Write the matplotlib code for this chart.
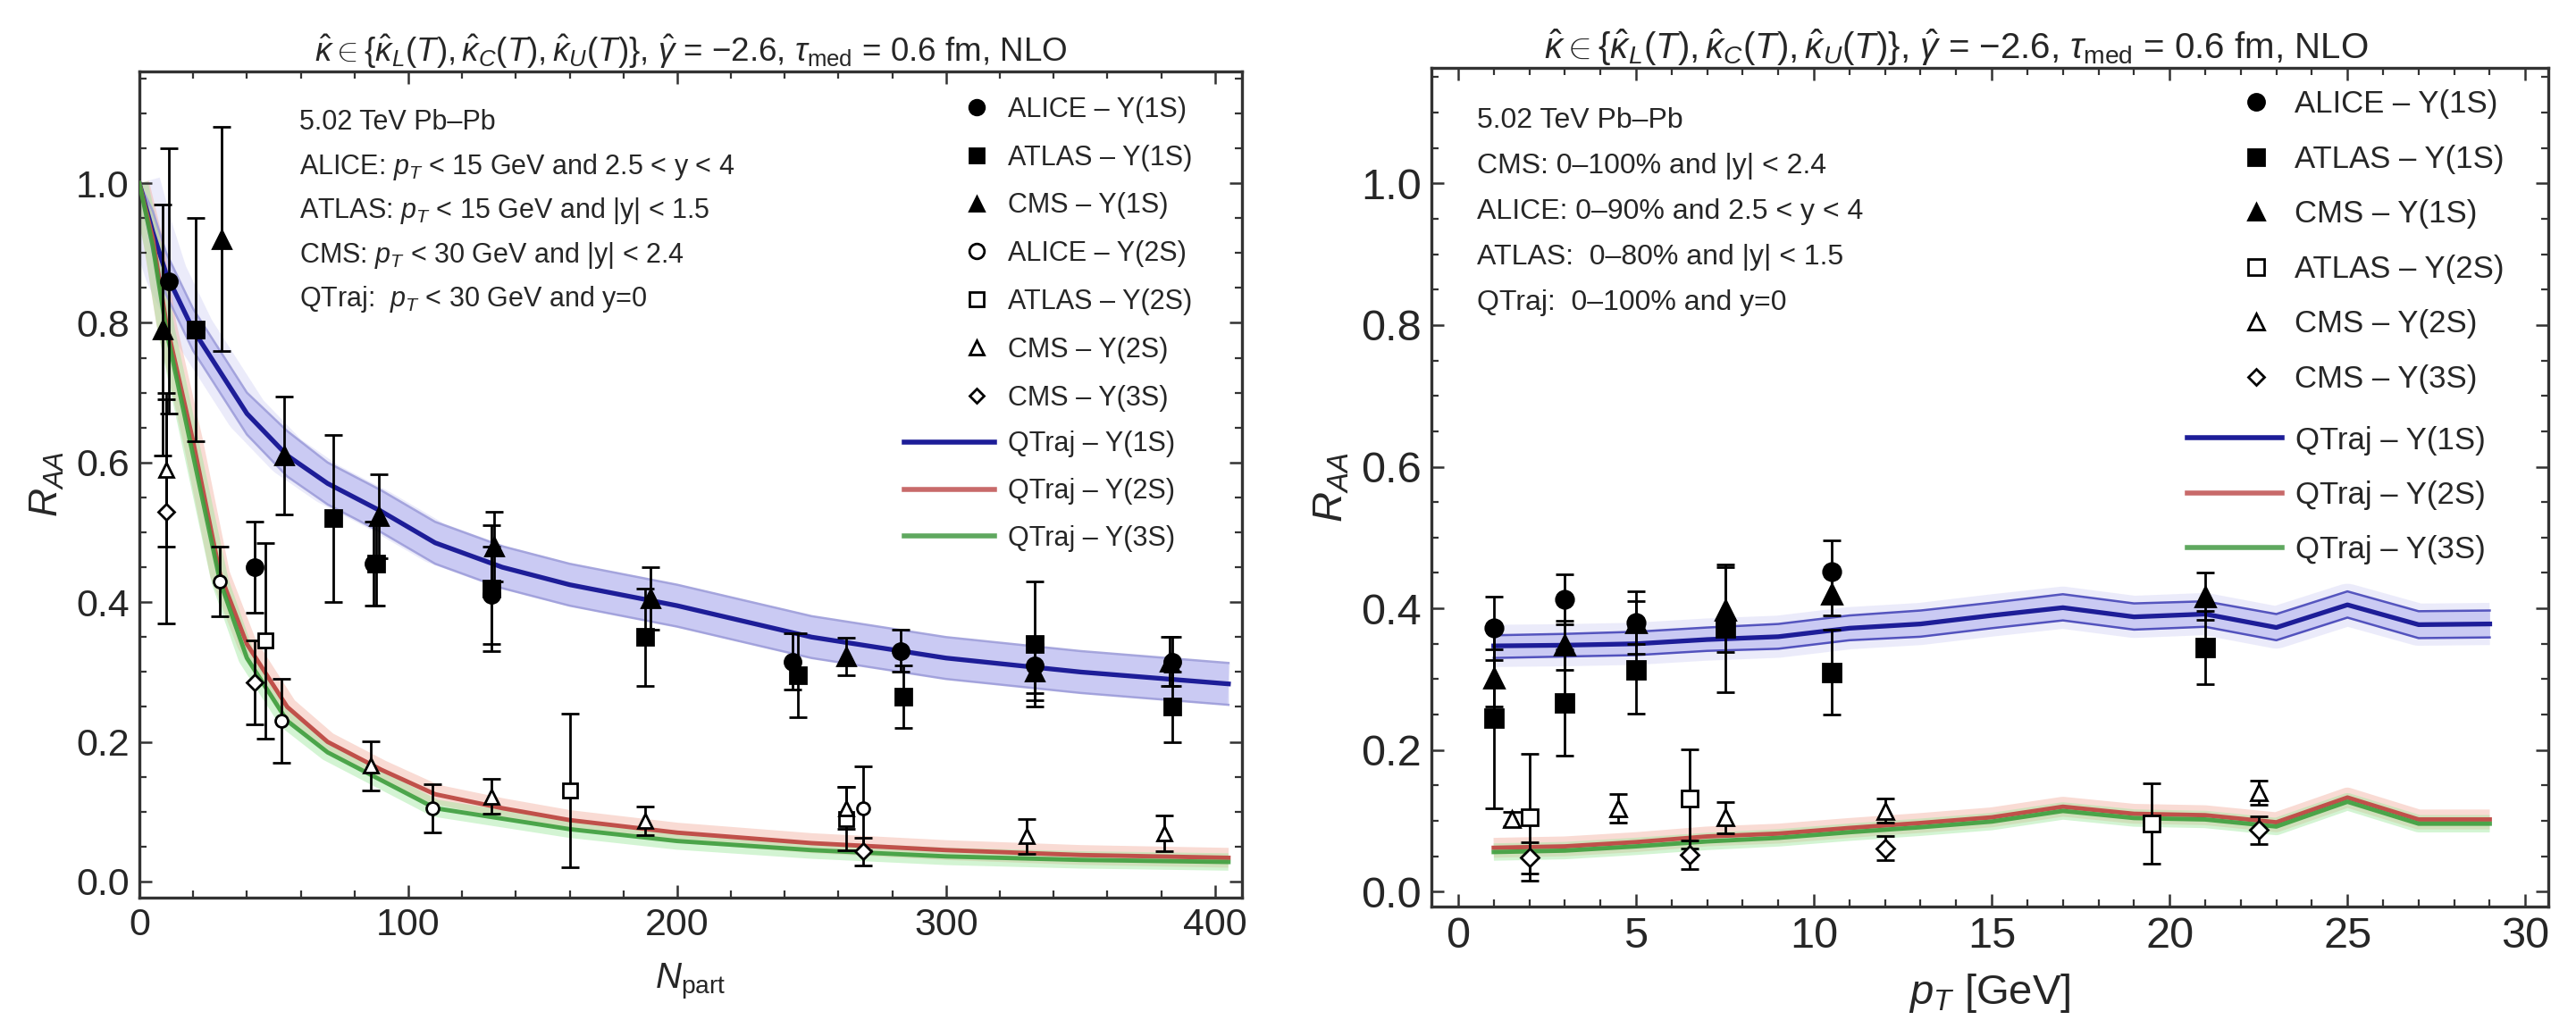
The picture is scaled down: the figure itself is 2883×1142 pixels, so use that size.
import numpy as np
import matplotlib.pyplot as plt
from matplotlib.lines import Line2D
from matplotlib.ticker import MultipleLocator

plt.rcParams['font.family'] = ['Liberation Sans', 'DejaVu Sans']
plt.rcParams['mathtext.fontset'] = 'custom'
plt.rcParams['mathtext.rm'] = 'Liberation Sans'
plt.rcParams['mathtext.it'] = 'Liberation Sans:italic'
plt.rcParams['mathtext.bf'] = 'Liberation Sans:bold'

# ---------------- left panel: R_AA vs N_part ----------------
npart_model = [0, 5, 10, 20, 30, 40, 55, 70, 90, 110, 135, 160, 200, 250, 300, 350, 405]
qtraj1s_npart = [1.0, 0.93, 0.87, 0.79, 0.73, 0.67, 0.61, 0.57, 0.53, 0.485, 0.45, 0.425, 0.395, 0.35, 0.32, 0.30, 0.283]
qtraj1s_npart_hi = [1.0, 0.96, 0.90, 0.82, 0.76, 0.70, 0.645, 0.60, 0.56, 0.515, 0.48, 0.455, 0.425, 0.38, 0.35, 0.33, 0.313]
qtraj1s_npart_lo = [1.0, 0.90, 0.84, 0.76, 0.70, 0.64, 0.58, 0.54, 0.50, 0.455, 0.42, 0.395, 0.365, 0.32, 0.29, 0.27, 0.253]
qtraj2s_npart = [1.0, 0.92, 0.80, 0.63, 0.44, 0.34, 0.25, 0.20, 0.16, 0.125, 0.105, 0.088, 0.07, 0.055, 0.045, 0.038, 0.034]
qtraj3s_npart = [1.0, 0.91, 0.79, 0.61, 0.43, 0.32, 0.23, 0.185, 0.145, 0.105, 0.09, 0.075, 0.058, 0.045, 0.036, 0.031, 0.028]

alice1s_n = [11, 43, 87, 131, 243, 283, 333, 384]
alice1s_r = [0.86, 0.45, 0.455, 0.41, 0.315, 0.33, 0.31, 0.315]
alice1s_e = [0.19, 0.065, 0.06, 0.07, 0.04, 0.03, 0.04, 0.035]

atlas1s_n = [21, 72, 88, 131, 188, 245, 284, 333, 384]
atlas1s_r = [0.79, 0.52, 0.455, 0.42, 0.35, 0.295, 0.265, 0.34, 0.25]
atlas1s_e = [0.16, 0.12, 0.06, 0.09, 0.07, 0.06, 0.045, 0.09, 0.05]

cms1s_n = [8.5, 30.5, 54, 89, 132, 190, 263, 333, 383]
cms1s_r = [0.79, 0.92, 0.61, 0.523, 0.48, 0.405, 0.322, 0.30, 0.315]
cms1s_e = [0.18, 0.16, 0.085, 0.06, 0.05, 0.045, 0.027, 0.04, 0.035]

alice2s_n = [30, 53, 109, 269]
alice2s_r = [0.43, 0.23, 0.105, 0.105]
alice2s_e = [0.05, 0.06, 0.035, 0.06]

atlas2s_n = [47, 160, 263]
atlas2s_r = [0.345, 0.13, 0.09]
atlas2s_e = [0.14, 0.11, 0.045]

cms2s_n = [10, 86, 131, 188, 263, 330, 381]
cms2s_r = [0.59, 0.166, 0.122, 0.087, 0.105, 0.065, 0.069]
cms2s_e = [0.11, 0.035, 0.025, 0.02, 0.03, 0.025, 0.025]

cms3s_n = [10, 43, 269]
cms3s_r = [0.53, 0.285, 0.043]
cms3s_e = [0.16, 0.06, 0.02]

# ---------------- right panel: R_AA vs pT ----------------
pt_model = [1, 3, 5, 7, 9, 11, 13, 15, 17, 19, 21, 23, 25, 27, 29]
qtraj1s_pt = [0.347, 0.348, 0.35, 0.356, 0.36, 0.372, 0.378, 0.39, 0.401, 0.388, 0.392, 0.373, 0.405, 0.377, 0.378]
qtraj1s_pt_hi = [0.362, 0.364, 0.367, 0.373, 0.378, 0.39, 0.397, 0.408, 0.42, 0.407, 0.41, 0.392, 0.424, 0.396, 0.397]
qtraj1s_pt_lo = [0.33, 0.332, 0.334, 0.34, 0.343, 0.355, 0.36, 0.372, 0.383, 0.37, 0.374, 0.355, 0.387, 0.358, 0.359]
qtraj2s_pt = [0.062, 0.064, 0.07, 0.078, 0.082, 0.09, 0.097, 0.105, 0.12, 0.11, 0.108, 0.098, 0.133, 0.102, 0.102]
qtraj3s_pt = [0.056, 0.058, 0.064, 0.071, 0.076, 0.084, 0.091, 0.099, 0.114, 0.104, 0.102, 0.092, 0.127, 0.096, 0.096]

alice1s_pt = [1, 3, 5, 10.5]
alice1s_ptr = [0.372, 0.413, 0.38, 0.452]
alice1s_pte = [0.045, 0.035, 0.044, 0.044]

atlas1s_pt = [1, 3, 5, 7.5, 10.5, 21]
atlas1s_ptr = [0.245, 0.267, 0.313, 0.372, 0.31, 0.345]
atlas1s_pte = [0.127, 0.075, 0.062, 0.09, 0.06, 0.052]

cms1s_pt = [1, 3, 5, 7.5, 10.5, 21]
cms1s_ptr = [0.302, 0.348, 0.38, 0.398, 0.42, 0.417]
cms1s_pte = [0.04, 0.035, 0.03, 0.06, 0.03, 0.033]

atlas2s_pt = [2, 6.5, 19.5]
atlas2s_ptr = [0.105, 0.131, 0.096]
atlas2s_pte = [0.09, 0.07, 0.057]

cms2s_pt = [1.5, 4.5, 7.5, 12, 22.5]
cms2s_ptr = [0.103, 0.118, 0.105, 0.114, 0.14]
cms2s_pte = [0.01, 0.02, 0.022, 0.017, 0.017]

cms3s_pt = [2, 6.5, 12, 22.5]
cms3s_ptr = [0.048, 0.052, 0.061, 0.087]
cms3s_pte = [0.022, 0.02, 0.017, 0.02]

title = (r'$\hat{\kappa}\in\{\hat{\kappa}_L(T),\hat{\kappa}_C(T),\hat{\kappa}_U(T)\}$, '
         r'$\hat{\gamma}$ = $-$2.6, $\tau_{\rm med}$ = 0.6 fm, NLO')

left_notes = ['5.02 TeV Pb\u2013Pb',
              r'ALICE: $p_T$ < 15 GeV and 2.5 < y < 4',
              r'ATLAS: $p_T$ < 15 GeV and |y| < 1.5',
              r'CMS: $p_T$ < 30 GeV and |y| < 2.4',
              r'QTraj:  $p_T$ < 30 GeV and y=0']
right_notes = ['5.02 TeV Pb\u2013Pb',
               'CMS: 0\u2013100% and |y| < 2.4',
               'ALICE: 0\u201390% and 2.5 < y < 4',
               'ATLAS:  0\u201380% and |y| < 1.5',
               'QTraj:  0\u2013100% and y=0']

BLUE = '#1d1d98'
RED = '#c0504a'
GREEN = '#3d9e3d'
FRAME = '#333333'
TXT = '#262626'

fig = plt.figure(figsize=(28.83, 11.42), dpi=100)
ax1 = fig.add_axes([0.0541, 0.1200, 0.4280, 0.8100])
ax2 = fig.add_axes([0.5557, 0.1112, 0.4336, 0.8222])


def draw_models(ax, x, c1, lo1, hi1, c2, c3, edge):
    ax.plot(x, c1, color='#c8c8f2', lw=34, alpha=0.35, solid_capstyle='butt', zorder=0)
    ax.fill_between(x, lo1, hi1, color='#b4b4ef', alpha=0.6, lw=0, zorder=1)
    ax.plot(x, lo1, color=edge, lw=1.8, alpha=0.85, zorder=2)
    ax.plot(x, hi1, color=edge, lw=1.8, alpha=0.85, zorder=2)
    ax.plot(x, c1, color=BLUE, lw=3.8, zorder=3)
    ax.plot(x, c2, color='#f2b0a0', lw=16, alpha=0.45, solid_capstyle='butt', zorder=1)
    ax.plot(x, c3, color='#9ee89e', lw=14, alpha=0.45, solid_capstyle='butt', zorder=1)
    ax.plot(x, c2, color=RED, lw=3.5, zorder=3)
    ax.plot(x, c3, color=GREEN, lw=3.5, alpha=0.9, zorder=3)


def draw_data(ax, x, y, e, marker, filled, ms):
    ax.errorbar(x, y, yerr=e, fmt=marker, ms=ms,
                mfc='black' if filled else 'white', mec='black', mew=2.0,
                ecolor='black', elinewidth=2.0, capsize=7, capthick=2.0, zorder=5)


draw_models(ax1, npart_model, qtraj1s_npart, qtraj1s_npart_lo, qtraj1s_npart_hi,
            qtraj2s_npart, qtraj3s_npart, '#9a9ad8')
draw_data(ax1, alice1s_n, alice1s_r, alice1s_e, 'o', True, 13)
draw_data(ax1, atlas1s_n, atlas1s_r, atlas1s_e, 's', True, 13)
draw_data(ax1, cms1s_n, cms1s_r, cms1s_e, '^', True, 15)
draw_data(ax1, alice2s_n, alice2s_r, alice2s_e, 'o', False, 10)
draw_data(ax1, atlas2s_n, atlas2s_r, atlas2s_e, 's', False, 12)
draw_data(ax1, cms2s_n, cms2s_r, cms2s_e, '^', False, 12)
draw_data(ax1, cms3s_n, cms3s_r, cms3s_e, 'D', False, 9)

draw_models(ax2, pt_model, qtraj1s_pt, qtraj1s_pt_lo, qtraj1s_pt_hi,
            qtraj2s_pt, qtraj3s_pt, '#3c3cb4')
draw_data(ax2, alice1s_pt, alice1s_ptr, alice1s_pte, 'o', True, 14)
draw_data(ax2, atlas1s_pt, atlas1s_ptr, atlas1s_pte, 's', True, 14)
draw_data(ax2, cms1s_pt, cms1s_ptr, cms1s_pte, '^', True, 16)
draw_data(ax2, atlas2s_pt, atlas2s_ptr, atlas2s_pte, 's', False, 13)
draw_data(ax2, cms2s_pt, cms2s_ptr, cms2s_pte, '^', False, 13)
draw_data(ax2, cms3s_pt, cms3s_ptr, cms3s_pte, 'D', False, 10)

ax1.set_xlim(0, 410)
ax1.set_ylim(-0.023, 1.16)
ax2.set_xlim(-0.75, 30.65)
ax2.set_ylim(-0.021, 1.163)

for ax, xmaj, xmin, fs in [(ax1, 100, 20, 31), (ax2, 5, 1, 35)]:
    ax.xaxis.set_major_locator(MultipleLocator(xmaj))
    ax.xaxis.set_minor_locator(MultipleLocator(xmin))
    ax.yaxis.set_major_locator(MultipleLocator(0.2))
    ax.yaxis.set_minor_locator(MultipleLocator(0.05))
    ax.yaxis.set_major_formatter(plt.FormatStrFormatter('%.1f'))
    ax.tick_params(which='both', direction='in', top=True, right=True,
                   color=FRAME, labelcolor=TXT, labelsize=fs, pad=8)
    ax.tick_params(which='major', length=10, width=1.8)
    ax.tick_params(which='minor', length=5.5, width=1.6)
    for s in ax.spines.values():
        s.set_color(FRAME)
        s.set_linewidth(2.4)

ax1.set_ylabel(r'$R_{AA}$', fontsize=32, color=TXT, labelpad=8)
ax2.set_ylabel(r'$R_{AA}$', fontsize=34, color=TXT, labelpad=8)
ax1.set_xlabel(r'$N_{\rm part}$', fontsize=29, color=TXT, labelpad=14)
ax2.set_xlabel(r'$p_T$ [GeV]', fontsize=34, color=TXT, labelpad=12)
ax1.set_title(title, fontsize=26.5, color=TXT, pad=8)
ax2.set_title(title, fontsize=29, color=TXT, pad=6, x=0.47)

for i, s in enumerate(left_notes):
    ax1.text(0.145, 0.938 - i * 0.0535, s, transform=ax1.transAxes,
             fontsize=22, va='center', ha='left', color=TXT)
for i, s in enumerate(right_notes):
    ax2.text(0.041, 0.937 - i * 0.0543, s, transform=ax2.transAxes,
             fontsize=23, va='center', ha='left', color=TXT)


def marker_handles(entries, ms):
    hs = []
    for m, filled, lab in entries:
        hs.append(Line2D([], [], ls='none', marker=m, ms=ms if m != 'D' else ms * 0.7,
                         mfc='black' if filled else 'white', mec='black', mew=2.0, label=lab))
    return hs


line_handles = [Line2D([], [], color=BLUE, lw=4, label='QTraj \u2013 \u03a5(1S)'),
                Line2D([], [], color='#c86a6a', lw=4, label='QTraj \u2013 \u03a5(2S)'),
                Line2D([], [], color='#5fa85f', lw=4, label='QTraj \u2013 \u03a5(3S)')]

left_entries = [('o', True, 'ALICE \u2013 \u03a5(1S)'), ('s', True, 'ATLAS \u2013 \u03a5(1S)'),
                ('^', True, 'CMS \u2013 \u03a5(1S)'), ('o', False, 'ALICE \u2013 \u03a5(2S)'),
                ('s', False, 'ATLAS \u2013 \u03a5(2S)'), ('^', False, 'CMS \u2013 \u03a5(2S)'),
                ('D', False, 'CMS \u2013 \u03a5(3S)')]
right_entries = [('o', True, 'ALICE \u2013 \u03a5(1S)'), ('s', True, 'ATLAS \u2013 \u03a5(1S)'),
                 ('^', True, 'CMS \u2013 \u03a5(1S)'), ('s', False, 'ATLAS \u2013 \u03a5(2S)'),
                 ('^', False, 'CMS \u2013 \u03a5(2S)'), ('D', False, 'CMS \u2013 \u03a5(3S)')]

leg = ax1.legend(handles=marker_handles(left_entries, 12), loc='upper left',
                 bbox_to_anchor=(0.747, 0.970), frameon=False, fontsize=22,
                 handlelength=1.0, handletextpad=0.63, labelspacing=0.78, borderpad=0,
                 borderaxespad=0, labelcolor=TXT)
ax1.add_artist(leg)
ax1.legend(handles=line_handles, loc='upper left', bbox_to_anchor=(0.694, 0.565),
           frameon=False, fontsize=22, handlelength=3.3, handletextpad=0.49,
           labelspacing=0.75, borderpad=0, borderaxespad=0, labelcolor=TXT)

leg = ax2.legend(handles=marker_handles(right_entries, 13), loc='upper left',
                 bbox_to_anchor=(0.7245, 0.974), frameon=False, fontsize=25,
                 handlelength=1.0, handletextpad=0.74, labelspacing=0.82, borderpad=0,
                 borderaxespad=0, labelcolor=TXT)
ax2.add_artist(leg)
ax2.legend(handles=line_handles, loc='upper left', bbox_to_anchor=(0.677, 0.5735),
           frameon=False, fontsize=25, handlelength=3.03, handletextpad=0.43,
           labelspacing=0.82, borderpad=0, borderaxespad=0, labelcolor=TXT)

fig.savefig('out.png', dpi=100)
